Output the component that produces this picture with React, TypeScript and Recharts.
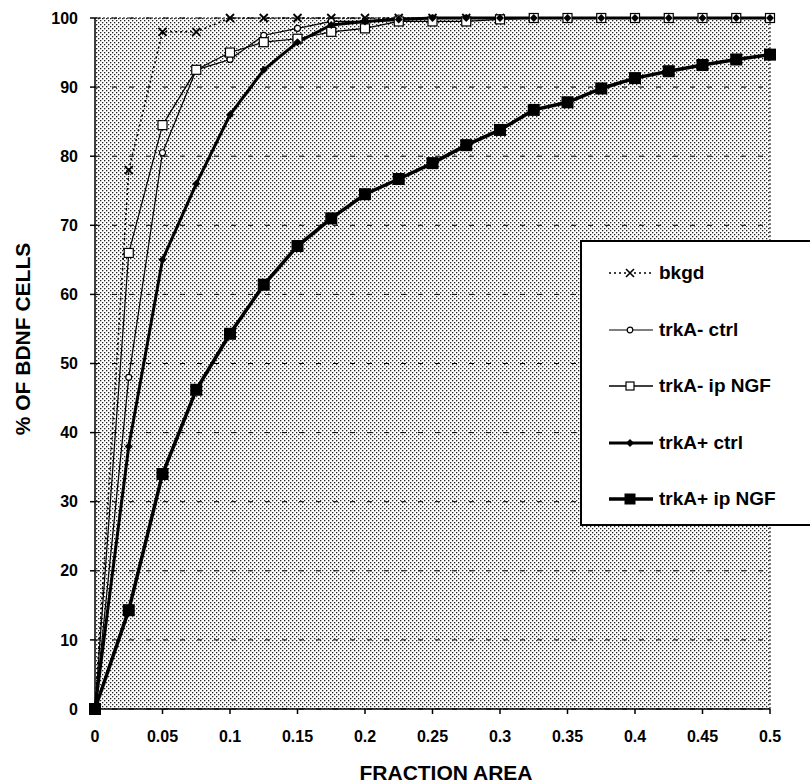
import { LineChart, Line, XAxis, YAxis, CartesianGrid, ReferenceLine } from "recharts";

// fraction area (x) sampled every 0.025
const fractions = [0, 0.025, 0.05, 0.075, 0.1, 0.125, 0.15, 0.175, 0.2, 0.225, 0.25, 0.275, 0.3, 0.325, 0.35, 0.375, 0.4, 0.425, 0.45, 0.475, 0.5];

const bkgd = [0, 78, 98, 98, 100, 100, 100, 100, 100, 100, 100, 100, 100, 100, 100, 100, 100, 100, 100, 100, 100];
const trkAminusCtrl = [0, 48, 80.5, 92.5, 94, 97.5, 98.5, 99.5, 99.5, 100, 100, 100, 100, 100, 100, 100, 100, 100, 100, 100, 100];
const trkAminusNGF = [0, 66, 84.5, 92.5, 95, 96.5, 97, 98, 98.5, 99.5, 99.5, 99.5, 99.8, 100, 100, 100, 100, 100, 100, 100, 100];
const trkAplusCtrl = [0, 38, 65, 76, 86, 92.5, 96.5, 99, 99.5, 99.8, 100, 100, 100, 100, 100, 100, 100, 100, 100, 100, 100];
const trkAplusNGF = [0, 14.3, 34, 46.2, 54.3, 61.4, 67, 71, 74.5, 76.7, 79, 81.6, 83.8, 86.7, 87.8, 89.8, 91.3, 92.3, 93.2, 94, 94.7];

const xTicks = [0, 0.05, 0.1, 0.15, 0.2, 0.25, 0.3, 0.35, 0.4, 0.45, 0.5];
const yTicks = [0, 10, 20, 30, 40, 50, 60, 70, 80, 90, 100];

const legendNames = ["bkgd", "trkA- ctrl", "trkA- ip NGF", "trkA+ ctrl", "trkA+ ip NGF"];

const data = fractions.map((f, i) => ({
  f,
  bkgd: bkgd[i],
  aCtrl: trkAminusCtrl[i],
  aNGF: trkAminusNGF[i],
  pCtrl: trkAplusCtrl[i],
  pNGF: trkAplusNGF[i],
}));

const font = "'Liberation Sans', Arial, sans-serif";

const CrossDot = (p: any) => {
  const { cx, cy } = p;
  if (cx == null || cy == null) return null;
  return <path key={p.index} d={`M${cx - 4},${cy - 4}L${cx + 4},${cy + 4}M${cx + 4},${cy - 4}L${cx - 4},${cy + 4}`} stroke="#000" strokeWidth={1.8} />;
};
const CircleDot = (p: any) => {
  const { cx, cy } = p;
  if (cx == null || cy == null) return null;
  return <circle key={p.index} cx={cx} cy={cy} r={3} fill="#fff" stroke="#000" strokeWidth={1.2} />;
};
const OpenSquare = (p: any) => {
  const { cx, cy } = p;
  if (cx == null || cy == null) return null;
  return <rect key={p.index} x={cx - 4.5} y={cy - 4.5} width={9} height={9} fill="#fff" stroke="#000" strokeWidth={1.2} />;
};
const Diamond = (p: any) => {
  const { cx, cy } = p;
  if (cx == null || cy == null) return null;
  return <path key={p.index} d={`M${cx},${cy - 4}L${cx + 4},${cy}L${cx},${cy + 4}L${cx - 4},${cy}Z`} fill="#000" />;
};
const BigSquare = (p: any) => {
  const { cx, cy } = p;
  if (cx == null || cy == null) return null;
  return <rect key={p.index} x={cx - 6} y={cy - 6} width={12} height={12} fill="#000" />;
};

// legend drawn by hand, laid over the plot
const LegendBox = () => {
  const samples = [
    { dash: "2 3", w: 1.5, mark: <path d="M17,-4L25,4M25,-4L17,4" stroke="#000" strokeWidth={1.6} /> },
    { dash: undefined, w: 1.2, mark: <circle cx={21} cy={0} r={2.8} fill="#fff" stroke="#000" strokeWidth={1.2} /> },
    { dash: undefined, w: 1.5, mark: <rect x={17} y={-4} width={8} height={8} fill="#fff" stroke="#000" strokeWidth={1.2} /> },
    { dash: undefined, w: 3, mark: <path d="M21,-4L25,0L21,4L17,0Z" fill="#000" /> },
    { dash: undefined, w: 3.5, mark: <rect x={15.5} y={-5.5} width={11} height={11} fill="#000" /> },
  ];
  return (
    <div style={{ position: "absolute", left: 580, top: 240, width: 240, height: 286, background: "#fff", border: "2px solid #000", boxSizing: "border-box", paddingTop: 3 }}>
      {legendNames.map((n, i) => (
        <div key={n} style={{ display: "flex", alignItems: "center", height: 56.5, fontFamily: font, fontWeight: "bold", fontSize: 19, color: "#000" }}>
          <svg width={52} height={16} style={{ marginLeft: 23, flex: "none" }}>
            <g transform="translate(4,8)">
              <line x1={0} y1={0} x2={44} y2={0} stroke="#000" strokeWidth={samples[i].w} strokeDasharray={samples[i].dash} />
              {samples[i].mark}
            </g>
          </svg>
          <span style={{ marginLeft: 2 }}>{n}</span>
        </div>
      ))}
    </div>
  );
};

const YTitle = () => (
  <text x={22} y={339} transform="rotate(-90 22 339)" textAnchor="middle" dominantBaseline="central" fontFamily={font} fontWeight="bold" fontSize={21} fill="#000">
    % OF BDNF CELLS
  </text>
);

const XTitle = () => (
  <text x={446} y={772} textAnchor="middle" dominantBaseline="central" fontFamily={font} fontWeight="bold" fontSize={21} fill="#000">
    FRACTION AREA
  </text>
);

export default function App() {
  return (
    <div style={{ position: "absolute", left: 0, top: 0, width: 810, height: 782, background: "#fff", overflow: "hidden" }}>
      <LineChart width={810} height={782} data={data} margin={{ top: 18, right: 40, bottom: 0, left: 0 }}>
        <defs>
          <pattern id="stipple" width="4" height="4" patternUnits="userSpaceOnUse">
            <rect width="4" height="4" fill="#fff" />
            <rect x="0" y="0" width="1.3" height="1.3" fill="#222" />
            <rect x="2" y="2" width="1.3" height="1.3" fill="#222" />
          </pattern>
        </defs>
        <CartesianGrid vertical={false} fill="url(#stipple)" fillOpacity={1} stroke="#000" strokeDasharray="5 12" />
        <ReferenceLine y={100} stroke="#000" strokeDasharray="2 2" />
        <ReferenceLine x={0.5} stroke="#000" strokeDasharray="2 2" />
        <XAxis
          dataKey="f"
          type="number"
          domain={[0, 0.5]}
          ticks={xTicks}
          height={73}
          tickFormatter={(v: number) => String(v)}
          stroke="#000"
          strokeWidth={1.5}
          tickSize={5}
          tickMargin={17}
          tick={{ fill: "#000", fontFamily: font, fontWeight: "bold", fontSize: 16 }}
          label={<XTitle />}
        />
        <YAxis
          type="number"
          domain={[0, 100]}
          ticks={yTicks}
          width={95}
          stroke="#000"
          strokeWidth={1.5}
          tickSize={5}
          tickMargin={12}
          tick={{ fill: "#000", fontFamily: font, fontWeight: "bold", fontSize: 16 }}
          label={<YTitle />}
        />
        <Line dataKey="bkgd" type="linear" stroke="#000" strokeWidth={1.6} strokeDasharray="2 3" dot={CrossDot} isAnimationActive={false} />
        <Line dataKey="aCtrl" type="linear" stroke="#000" strokeWidth={1.2} dot={CircleDot} isAnimationActive={false} />
        <Line dataKey="aNGF" type="linear" stroke="#000" strokeWidth={1.2} dot={OpenSquare} isAnimationActive={false} />
        <Line dataKey="pCtrl" type="linear" stroke="#000" strokeWidth={3} dot={Diamond} isAnimationActive={false} />
        <Line dataKey="pNGF" type="linear" stroke="#000" strokeWidth={3.5} dot={BigSquare} isAnimationActive={false} />
      </LineChart>
      <LegendBox />
    </div>
  );
}
